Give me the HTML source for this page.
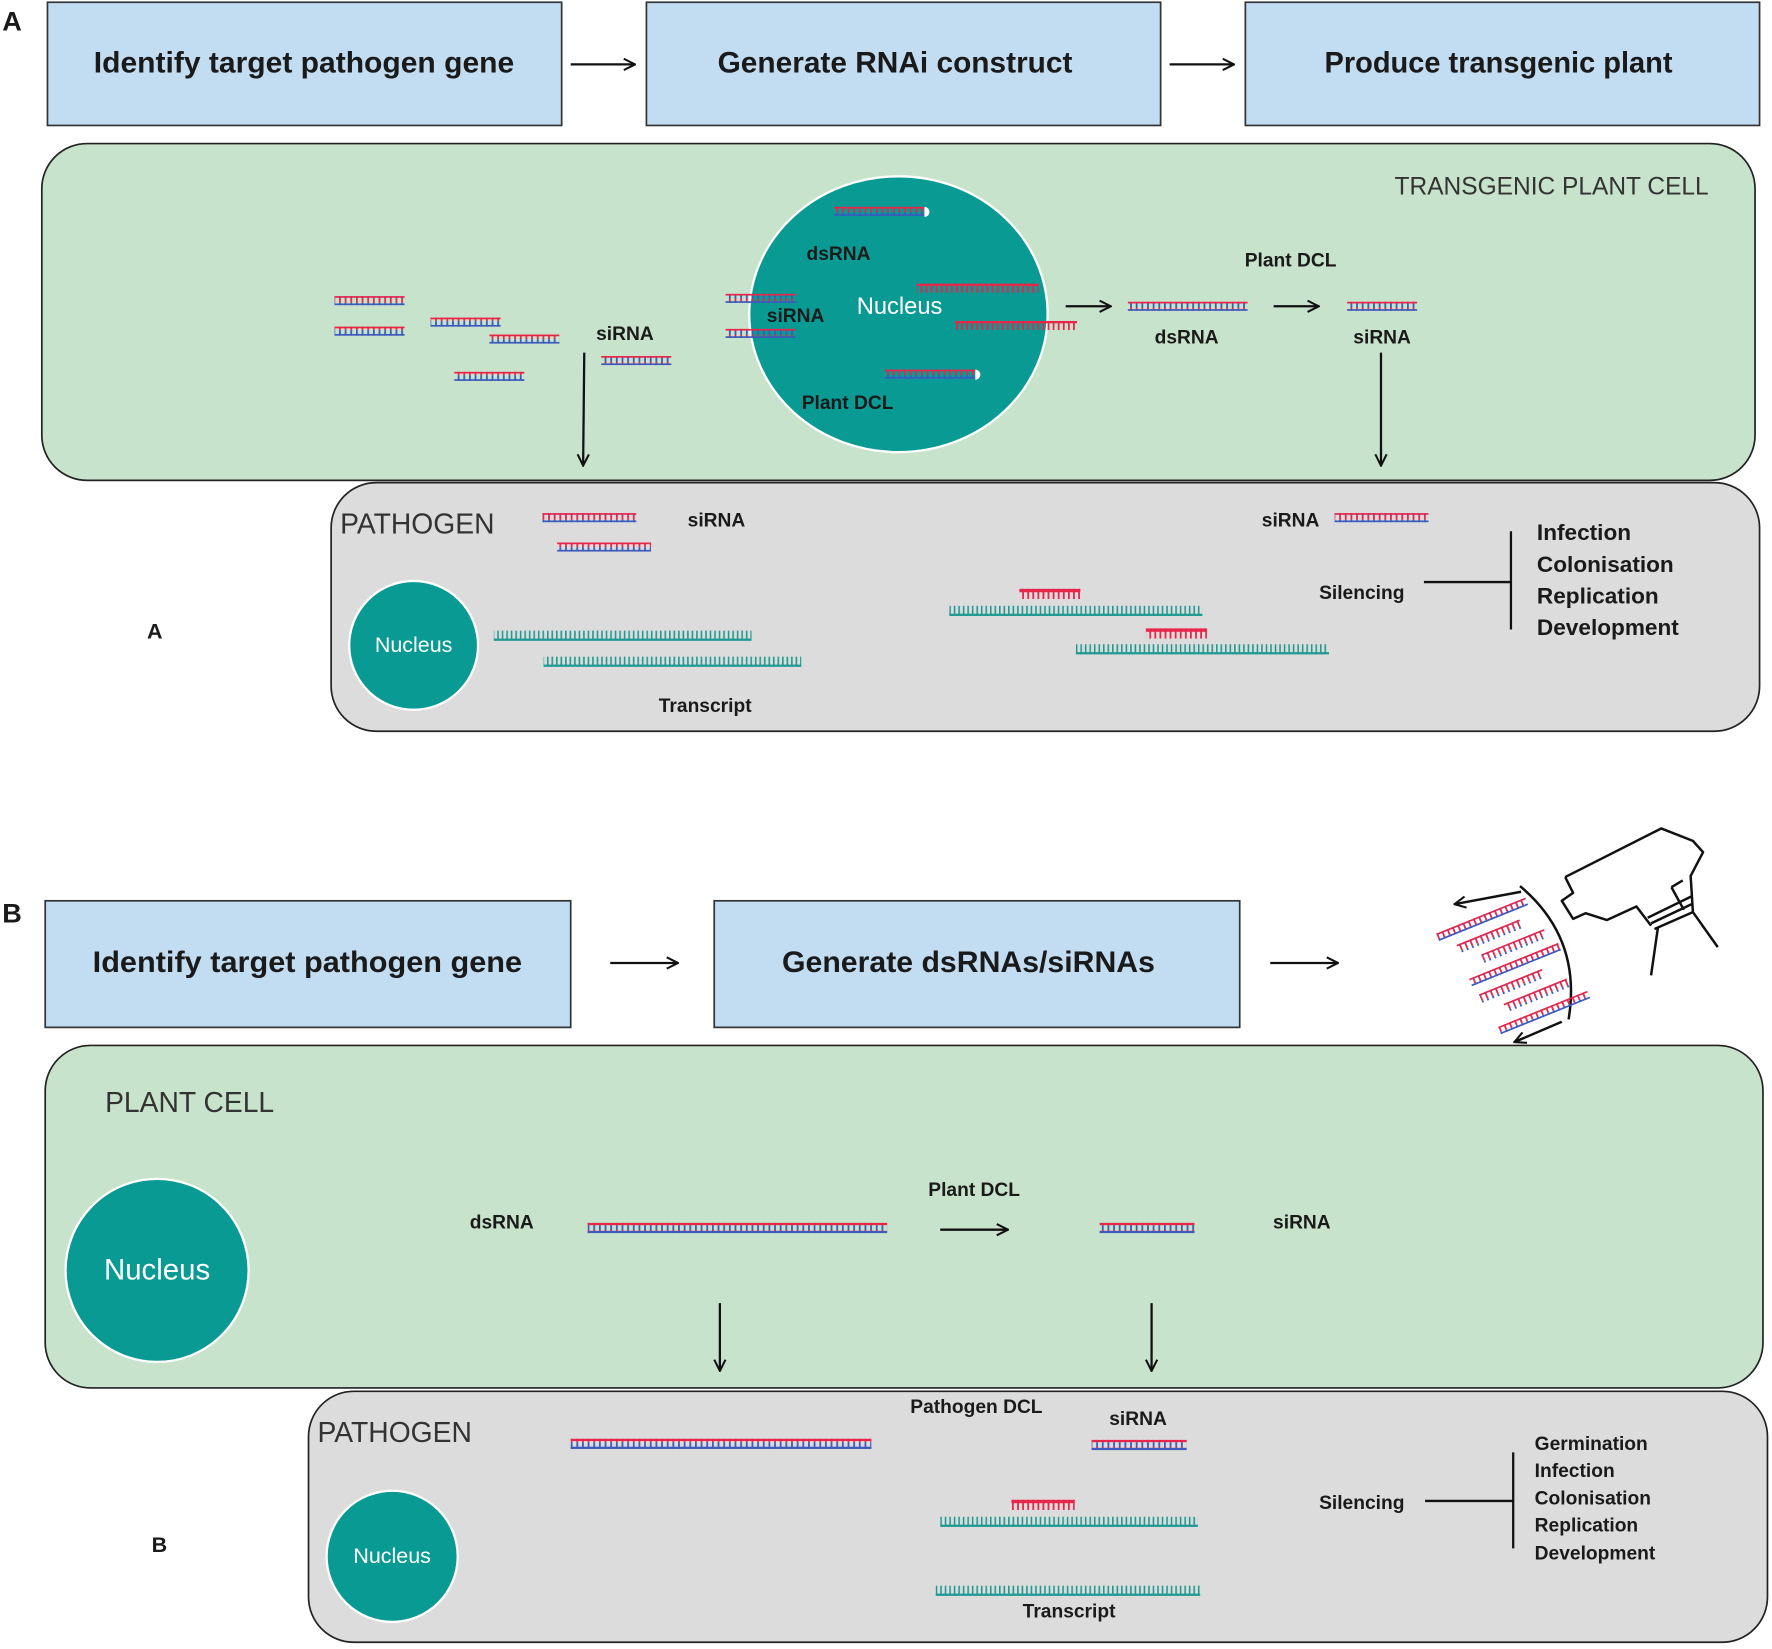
<!DOCTYPE html>
<html><head><meta charset="utf-8"><style>
html,body{margin:0;padding:0;background:#fff}
svg{display:block}
text{font-family:"Liberation Sans",sans-serif;fill:#1a1a1a}
.b{font-weight:bold}
text.w{fill:#fff}
text.g{fill:#333}
</style></head><body>
<svg width="1772" height="1649" viewBox="0 0 1568 1459" preserveAspectRatio="none" xmlns="http://www.w3.org/2000/svg">
<defs>
<pattern id="dsp" width="5" height="8" patternUnits="userSpaceOnUse"><rect x="0" y="0" width="1.6" height="4" fill="#e8264a"/><rect x="0" y="4" width="1.6" height="4" fill="#3b5bbf"/></pattern>
<pattern id="tp" width="4" height="8" patternUnits="userSpaceOnUse"><rect x="0" y="0" width="1.4" height="8" fill="#1e9a92"/></pattern>
<pattern id="rp" width="4.5" height="8" patternUnits="userSpaceOnUse"><rect x="0" y="0" width="1.6" height="8" fill="#e8264a"/></pattern>
<marker id="ah" viewBox="0 0 12 12" refX="11" refY="6" markerWidth="12" markerHeight="12" markerUnits="userSpaceOnUse" orient="auto"><path d="M1,1 L11,6 L1,11" fill="none" stroke="#111" stroke-width="1.8"/></marker>
</defs>

<text x="2" y="27" font-size="24" font-weight="bold">A</text>
<rect x="42" y="2" width="455" height="109" fill="#c2dcf2" stroke="#333" stroke-width="1.5"/>
<rect x="572" y="2" width="455" height="109" fill="#c2dcf2" stroke="#333" stroke-width="1.5"/>
<rect x="1102" y="2" width="455" height="109" fill="#c2dcf2" stroke="#333" stroke-width="1.5"/>
<text class="b" x="269" y="64" font-size="26" text-anchor="middle" textLength="372" lengthAdjust="spacingAndGlyphs">Identify target pathogen gene</text>
<text class="b" x="792" y="64" font-size="26" text-anchor="middle" textLength="314" lengthAdjust="spacingAndGlyphs">Generate RNAi construct</text>
<text class="b" x="1326" y="64" font-size="26" text-anchor="middle" textLength="308" lengthAdjust="spacingAndGlyphs">Produce transgenic plant</text>
<g stroke="#111" stroke-width="2" fill="none" marker-end="url(#ah)">
<line x1="505" y1="57" x2="562" y2="57"/>
<line x1="1035" y1="57" x2="1092" y2="57"/>
</g>

<rect x="37" y="127" width="1516" height="298" rx="40" fill="#c8e3cb" stroke="#222" stroke-width="1.5"/>
<text class="g" x="1512" y="172" font-size="22" text-anchor="end" textLength="278" lengthAdjust="spacingAndGlyphs">TRANSGENIC PLANT CELL</text>
<ellipse cx="795" cy="278" rx="132" ry="122" fill="#0a9a94" stroke="#fff" stroke-width="2"/>
<text class="w" x="796" y="278" font-size="21" text-anchor="middle">Nucleus</text>
<text class="b" x="742" y="230" font-size="17" text-anchor="middle">dsRNA</text>
<text class="b" x="704" y="285" font-size="17" text-anchor="middle">siRNA</text>
<text class="b" x="750" y="362" font-size="17" text-anchor="middle">Plant DCL</text>

<g>
<g><rect x="296" y="262" width="62" height="8" fill="url(#dsp)"/><rect x="296" y="262" width="62" height="1.5" fill="#e8264a"/><rect x="296" y="268.5" width="62" height="1.5" fill="#3b5bbf"/></g>
<g><rect x="296" y="289" width="62" height="8" fill="url(#dsp)"/><rect x="296" y="289" width="62" height="1.5" fill="#e8264a"/><rect x="296" y="295.5" width="62" height="1.5" fill="#3b5bbf"/></g>
<g><rect x="381" y="281" width="62" height="8" fill="url(#dsp)"/><rect x="381" y="281" width="62" height="1.5" fill="#e8264a"/><rect x="381" y="287.5" width="62" height="1.5" fill="#3b5bbf"/></g>
<g><rect x="433" y="296" width="62" height="8" fill="url(#dsp)"/><rect x="433" y="296" width="62" height="1.5" fill="#e8264a"/><rect x="433" y="302.5" width="62" height="1.5" fill="#3b5bbf"/></g>
<g><rect x="402" y="329" width="62" height="8" fill="url(#dsp)"/><rect x="402" y="329" width="62" height="1.5" fill="#e8264a"/><rect x="402" y="335.5" width="62" height="1.5" fill="#3b5bbf"/></g>
<g><rect x="532" y="315" width="62" height="8" fill="url(#dsp)"/><rect x="532" y="315" width="62" height="1.5" fill="#e8264a"/><rect x="532" y="321.5" width="62" height="1.5" fill="#3b5bbf"/></g>
<g><rect x="642" y="260" width="62" height="8" fill="url(#dsp)"/><rect x="642" y="260" width="62" height="1.5" fill="#e8264a"/><rect x="642" y="266.5" width="62" height="1.5" fill="#3b5bbf"/></g>
<g><rect x="642" y="291" width="62" height="8" fill="url(#dsp)"/><rect x="642" y="291" width="62" height="1.5" fill="#e8264a"/><rect x="642" y="297.5" width="62" height="1.5" fill="#3b5bbf"/></g>
<g><rect x="738" y="183" width="80" height="8" fill="url(#dsp)"/><rect x="738" y="183" width="80" height="1.5" fill="#e8264a"/><rect x="738" y="189.5" width="80" height="1.5" fill="#3b5bbf"/><path d="M818,183 a4.5,4.5 0 0 1 0,9 z" fill="#fff"/></g>
<g><rect x="783" y="327" width="80" height="8" fill="url(#dsp)"/><rect x="783" y="327" width="80" height="1.5" fill="#e8264a"/><rect x="783" y="333.5" width="80" height="1.5" fill="#3b5bbf"/><path d="M863,327 a4.5,4.5 0 0 1 0,9 z" fill="#fff"/></g>
<g><rect x="811" y="251" width="108" height="8" fill="url(#rp)"/><rect x="811" y="251" width="108" height="2" fill="#e8264a"/></g>
<g><rect x="845" y="284" width="108" height="8" fill="url(#rp)"/><rect x="845" y="284" width="108" height="2" fill="#e8264a"/></g>
<g><rect x="998" y="267" width="106" height="8" fill="url(#dsp)"/><rect x="998" y="267" width="106" height="1.5" fill="#e8264a"/><rect x="998" y="273.5" width="106" height="1.5" fill="#3b5bbf"/></g>
<g><rect x="1192" y="267" width="62" height="8" fill="url(#dsp)"/><rect x="1192" y="267" width="62" height="1.5" fill="#e8264a"/><rect x="1192" y="273.5" width="62" height="1.5" fill="#3b5bbf"/></g>
</g>
<text class="b" x="553" y="301" font-size="17" text-anchor="middle">siRNA</text>
<text class="b" x="1050" y="304" font-size="17" text-anchor="middle">dsRNA</text>
<text class="b" x="1142" y="236" font-size="17" text-anchor="middle">Plant DCL</text>
<text class="b" x="1223" y="304" font-size="17" text-anchor="middle">siRNA</text>
<g stroke="#111" stroke-width="2" fill="none" marker-end="url(#ah)">
<line x1="943" y1="271" x2="983" y2="271"/>
<line x1="1127" y1="271" x2="1167" y2="271"/>
<line x1="517" y1="312" x2="516" y2="412"/>
<line x1="1222" y1="312" x2="1222" y2="412"/>
</g>

<rect x="293" y="427" width="1264" height="220" rx="40" fill="#dcdcdc" stroke="#222" stroke-width="1.5"/>
<text class="g" x="301" y="472" font-size="25">PATHOGEN</text>
<text x="137" y="565" font-size="19" font-weight="bold" text-anchor="middle">A</text>
<circle cx="366" cy="571" r="57" fill="#0a9a94" stroke="#fff" stroke-width="2"/>
<text class="w" x="366" y="577" font-size="19" text-anchor="middle">Nucleus</text>
<g><rect x="480" y="454" width="83" height="8" fill="url(#dsp)"/><rect x="480" y="454" width="83" height="1.5" fill="#e8264a"/><rect x="480" y="460.5" width="83" height="1.5" fill="#3b5bbf"/></g>
<g><rect x="493" y="480" width="83" height="8" fill="url(#dsp)"/><rect x="493" y="480" width="83" height="1.5" fill="#e8264a"/><rect x="493" y="486.5" width="83" height="1.5" fill="#3b5bbf"/></g>
<g><rect x="1181" y="454" width="83" height="8" fill="url(#dsp)"/><rect x="1181" y="454" width="83" height="1.5" fill="#e8264a"/><rect x="1181" y="460.5" width="83" height="1.5" fill="#3b5bbf"/></g>
<text class="b" x="634" y="466" font-size="17" text-anchor="middle">siRNA</text>
<text class="b" x="1142" y="466" font-size="17" text-anchor="middle">siRNA</text>
<g><rect x="437" y="558" width="228" height="8" fill="url(#tp)"/><rect x="437" y="565" width="228" height="2" fill="#1e9a92"/></g>
<g><rect x="481" y="581" width="228" height="8" fill="url(#tp)"/><rect x="481" y="588" width="228" height="2" fill="#1e9a92"/></g>
<g><rect x="840" y="536" width="224" height="8" fill="url(#tp)"/><rect x="840" y="543" width="224" height="2" fill="#1e9a92"/></g>
<g><rect x="952" y="570" width="224" height="8" fill="url(#tp)"/><rect x="952" y="577" width="224" height="2" fill="#1e9a92"/></g>
<g><rect x="902" y="521" width="54" height="9" fill="url(#rp)"/><rect x="902" y="521" width="54" height="3" fill="#e8264a"/></g>
<g><rect x="1014" y="556" width="54" height="9" fill="url(#rp)"/><rect x="1014" y="556" width="54" height="3" fill="#e8264a"/></g>
<text class="b" x="624" y="630" font-size="17" text-anchor="middle">Transcript</text>
<text class="b" x="1205" y="530" font-size="17" text-anchor="middle">Silencing</text>
<g stroke="#111" stroke-width="2"><line x1="1260" y1="515" x2="1337" y2="515"/><line x1="1337" y1="470" x2="1337" y2="557"/></g>
<g font-size="20" class="b"><text x="1360" y="478">Infection</text><text x="1360" y="506">Colonisation</text><text x="1360" y="534">Replication</text><text x="1360" y="562">Development</text></g>

<text x="2" y="816" font-size="24" font-weight="bold">B</text>
<rect x="40" y="797" width="465" height="112" fill="#c2dcf2" stroke="#333" stroke-width="1.5"/>
<rect x="632" y="797" width="465" height="112" fill="#c2dcf2" stroke="#333" stroke-width="1.5"/>
<text class="b" x="272" y="860" font-size="26" text-anchor="middle" textLength="380" lengthAdjust="spacingAndGlyphs">Identify target pathogen gene</text>
<text class="b" x="857" y="860" font-size="26" text-anchor="middle" textLength="330" lengthAdjust="spacingAndGlyphs">Generate dsRNAs/siRNAs</text>
<g stroke="#111" stroke-width="2" fill="none" marker-end="url(#ah)">
<line x1="540" y1="852" x2="600" y2="852"/>
<line x1="1124" y1="852" x2="1184" y2="852"/>
</g>
<g stroke="#111" stroke-width="2.2" fill="none" stroke-linejoin="round">
<path d="M1385,776 L1470,733 L1498,744 L1507,754 L1496,775 L1498,807 L1520,838"/>
<path d="M1385,776 L1392,790 L1382,797 L1392,813 L1403,808 L1422,814 L1448,802 L1461,819"/>
<path d="M1467,821 L1461,863"/>
<path d="M1458,812 L1497,793 M1461,817 L1497,800 M1464,822 L1498,807"/>
<path d="M1479,785 L1489,779 M1479,785 L1490,805"/>
<path d="M1345,784 Q1400,830 1388,902"/>
<path d="M1346,789 L1287,800" marker-end="url(#ah)"/>
<path d="M1382,904 L1340,922" marker-end="url(#ah)"/>
</g>
<g transform="translate(14,0) rotate(-22 1315 850)">
<g><rect x="1270" y="806" width="85" height="7" fill="url(#dsp)"/><rect x="1270" y="806" width="85" height="1.5" fill="#e8264a"/><rect x="1270" y="811.5" width="85" height="1.5" fill="#3b5bbf"/></g>
<g><rect x="1283" y="822" width="60" height="8" fill="url(#dsp)"/><rect x="1283" y="822" width="60" height="1.5" fill="#e8264a"/></g>
<g><rect x="1300" y="838" width="60" height="8" fill="url(#dsp)"/><rect x="1300" y="838" width="60" height="1.5" fill="#e8264a"/></g>
<g><rect x="1282" y="854" width="85" height="7" fill="url(#dsp)"/><rect x="1282" y="854" width="85" height="1.5" fill="#e8264a"/><rect x="1282" y="859.5" width="85" height="1.5" fill="#3b5bbf"/></g>
<g><rect x="1285" y="870" width="60" height="8" fill="url(#dsp)"/><rect x="1285" y="870" width="60" height="1.5" fill="#e8264a"/></g>
<g><rect x="1302" y="886" width="60" height="8" fill="url(#dsp)"/><rect x="1302" y="886" width="60" height="1.5" fill="#e8264a"/></g>
<g><rect x="1290" y="903" width="85" height="7" fill="url(#dsp)"/><rect x="1290" y="903" width="85" height="1.5" fill="#e8264a"/><rect x="1290" y="908.5" width="85" height="1.5" fill="#3b5bbf"/></g>
</g>

<rect x="40" y="925" width="1520" height="303" rx="40" fill="#c8e3cb" stroke="#222" stroke-width="1.5"/>
<text class="g" x="93" y="984" font-size="25">PLANT CELL</text>
<circle cx="139" cy="1124" r="81" fill="#0a9a94" stroke="#fff" stroke-width="2"/>
<text class="w" x="139" y="1132" font-size="26" text-anchor="middle">Nucleus</text>
<text class="b" x="444" y="1087" font-size="17" text-anchor="middle">dsRNA</text>
<g><rect x="520" y="1082" width="265" height="9" fill="url(#dsp)"/><rect x="520" y="1082" width="265" height="2" fill="#e8264a"/><rect x="520" y="1089" width="265" height="2" fill="#3b5bbf"/></g>
<text class="b" x="862" y="1058" font-size="17" text-anchor="middle">Plant DCL</text>
<g><rect x="973" y="1082" width="84" height="9" fill="url(#dsp)"/><rect x="973" y="1082" width="84" height="2" fill="#e8264a"/><rect x="973" y="1089" width="84" height="2" fill="#3b5bbf"/></g>
<text class="b" x="1152" y="1087" font-size="17" text-anchor="middle">siRNA</text>
<g stroke="#111" stroke-width="2" fill="none" marker-end="url(#ah)">
<line x1="832" y1="1088" x2="892" y2="1088"/>
<line x1="637" y1="1153" x2="637" y2="1213"/>
<line x1="1019" y1="1153" x2="1019" y2="1213"/>
<line x1="834" y1="1284" x2="894" y2="1284"/>
</g>

<rect x="273" y="1231" width="1291" height="222" rx="40" fill="#dcdcdc" stroke="#222" stroke-width="1.5"/>
<text class="g" x="281" y="1276" font-size="25">PATHOGEN</text>
<text x="141" y="1373" font-size="19" font-weight="bold" text-anchor="middle">B</text>
<circle cx="347" cy="1377" r="58" fill="#0a9a94" stroke="#fff" stroke-width="2"/>
<text class="w" x="347" y="1383" font-size="19" text-anchor="middle">Nucleus</text>
<g><rect x="505" y="1273" width="266" height="9" fill="url(#dsp)"/><rect x="505" y="1273" width="266" height="2" fill="#e8264a"/><rect x="505" y="1280" width="266" height="2" fill="#3b5bbf"/></g>
<text class="b" x="864" y="1250" font-size="17" text-anchor="middle">Pathogen DCL</text>
<text class="b" x="1007" y="1261" font-size="17" text-anchor="middle">siRNA</text>
<g><rect x="966" y="1274" width="84" height="9" fill="url(#dsp)"/><rect x="966" y="1274" width="84" height="2" fill="#e8264a"/><rect x="966" y="1281" width="84" height="2" fill="#3b5bbf"/></g>
<g><rect x="832" y="1342" width="228" height="8" fill="url(#tp)"/><rect x="832" y="1349" width="228" height="2" fill="#1e9a92"/></g>
<g><rect x="895" y="1327" width="56" height="9" fill="url(#rp)"/><rect x="895" y="1327" width="56" height="3" fill="#e8264a"/></g>
<g><rect x="828" y="1403" width="234" height="8" fill="url(#tp)"/><rect x="828" y="1410" width="234" height="2" fill="#1e9a92"/></g>
<text class="b" x="946" y="1431" font-size="17" text-anchor="middle">Transcript</text>
<text class="b" x="1205" y="1335" font-size="17" text-anchor="middle">Silencing</text>
<g stroke="#111" stroke-width="2"><line x1="1261" y1="1328" x2="1339" y2="1328"/><line x1="1339" y1="1285" x2="1339" y2="1370"/></g>
<g font-size="17" class="b"><text x="1358" y="1283">Germination</text><text x="1358" y="1307">Infection</text><text x="1358" y="1331">Colonisation</text><text x="1358" y="1355">Replication</text><text x="1358" y="1380">Development</text></g>
</svg>
</body></html>
